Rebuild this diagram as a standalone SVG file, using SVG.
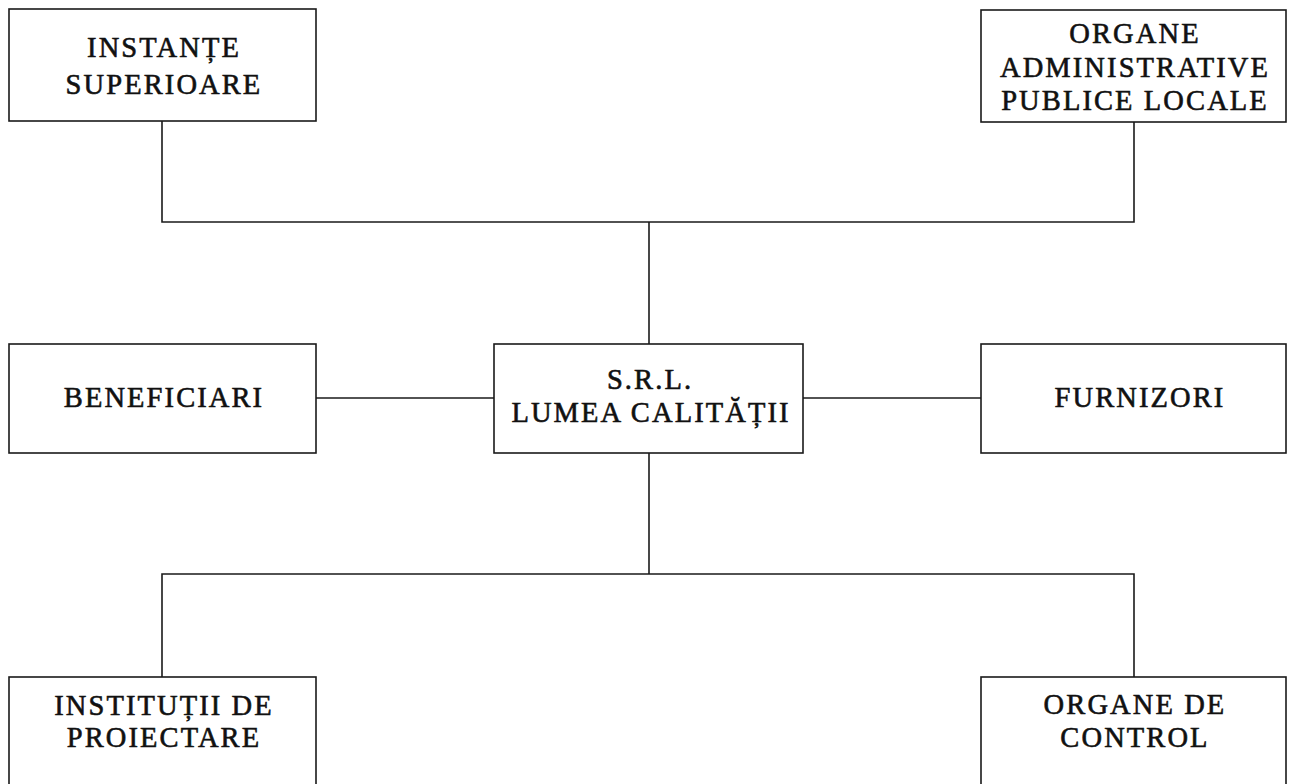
<svg xmlns="http://www.w3.org/2000/svg" width="1289" height="784" viewBox="0 0 1289 784">
<style>
.box{fill:#fff;stroke:#1a1a1a;stroke-width:1.6}
.conn{fill:none;stroke:#1a1a1a;stroke-width:1.6}
text{font-family:"Liberation Serif","Times New Roman",serif;font-size:28.5px;fill:#111;stroke:#111;stroke-width:0.6;text-anchor:middle;letter-spacing:2.1px}
</style>
<rect width="1289" height="784" fill="#fff"/>
<g id="connectors">
<polyline class="conn" points="162,121 162,222 1134,222 1134,122"/>
<line class="conn" x1="649" y1="222" x2="649" y2="344"/>
<line class="conn" x1="316" y1="398" x2="494" y2="398"/>
<line class="conn" x1="803" y1="398" x2="981" y2="398"/>
<line class="conn" x1="649" y1="453" x2="649" y2="574"/>
<polyline class="conn" points="162,677 162,574 1134,574 1134,677"/>
</g>
<g id="instante">
<rect class="box" x="9" y="9" width="307" height="112"/>
<text x="164" y="57">INSTANȚE</text>
<text x="164" y="94">SUPERIOARE</text>
</g>
<g id="organe-admin">
<rect class="box" x="981" y="10" width="305" height="112"/>
<text x="1135" y="43">ORGANE</text>
<text x="1135" y="77">ADMINISTRATIVE</text>
<text x="1135" y="110">PUBLICE LOCALE</text>
</g>
<g id="beneficiari">
<rect class="box" x="9" y="344" width="307" height="109"/>
<text x="164" y="407">BENEFICIARI</text>
</g>
<g id="srl">
<rect class="box" x="494" y="344" width="309" height="109"/>
<text x="650" y="389">S.R.L.</text>
<text x="651" y="422">LUMEA CALITĂȚII</text>
</g>
<g id="furnizori">
<rect class="box" x="981" y="344" width="305" height="109"/>
<text x="1140" y="407">FURNIZORI</text>
</g>
<g id="institutii">
<rect class="box" x="9" y="677" width="307" height="115"/>
<text x="164" y="715">INSTITUȚII DE</text>
<text x="164" y="747">PROIECTARE</text>
</g>
<g id="organe-control">
<rect class="box" x="981" y="677" width="305" height="115"/>
<text x="1135" y="714">ORGANE DE</text>
<text x="1135" y="747">CONTROL</text>
</g>
</svg>
